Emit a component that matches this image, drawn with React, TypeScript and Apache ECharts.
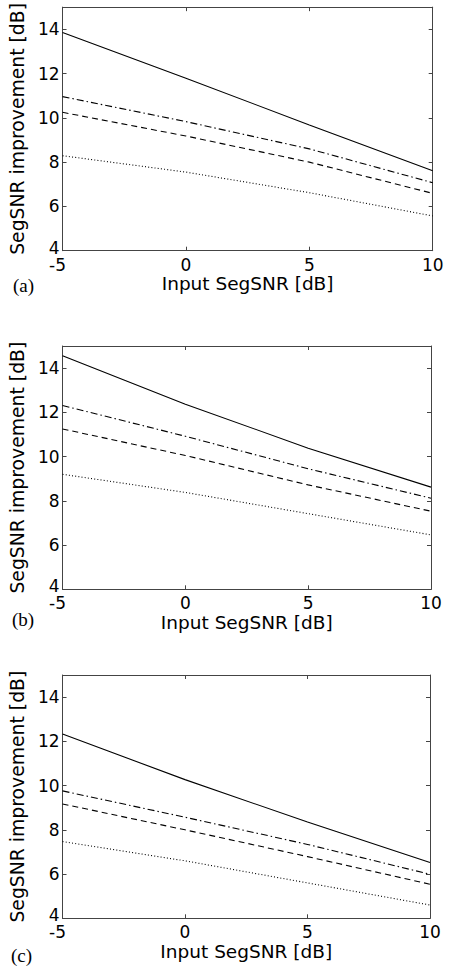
import React, { useEffect, useRef } from "react";
import * as echarts from "echarts";

const xValues = [-5, 0, 5, 10];
const xTicks = [-5, 0, 5, 10];
const yTicks = [4, 6, 8, 10, 12, 14];

const panelLabels = ["(a)", "(b)", "(c)"];

// panel (a)
const aSolid = [13.85, 11.79, 9.68, 7.61];
const aDashDot = [10.96, 9.83, 8.6, 7.07];
const aDashed = [10.25, 9.18, 8.0, 6.59];
const aDotted = [8.29, 7.55, 6.62, 5.57];
// panel (b)
const bSolid = [14.56, 12.37, 10.38, 8.62];
const bDashDot = [12.31, 10.92, 9.45, 8.12];
const bDashed = [11.25, 10.05, 8.72, 7.53];
const bDotted = [9.2, 8.38, 7.42, 6.46];
// panel (c)
const cSolid = [12.33, 10.27, 8.35, 6.52];
const cDashDot = [9.76, 8.57, 7.34, 5.99];
const cDashed = [9.17, 8.0, 6.79, 5.54];
const cDotted = [7.47, 6.6, 5.6, 4.6];

const panels = [
  [aSolid, aDashDot, aDashed, aDotted],
  [bSolid, bDashDot, bDashed, bDotted],
  [cSolid, cDashDot, cDashed, cDotted],
];

const xTitle = "Input SegSNR [dB]";
const yTitle = "SegSNR improvement [dB]";

const grids = [
  { left: 60.3, right: 16.3, top: 6.7, height: 244 },
  { left: 58.3, right: 18, top: 346, height: 243.3 },
  { left: 57.3, right: 19, top: 675, height: 243.3 },
];
const labelPos = [
  { x: 13, y: 276 },
  { x: 12, y: 610 },
  { x: 11, y: 946 },
];

const lineStyles: any[] = [
  { type: "solid" },
  { type: [7, 3, 1.5, 3] },
  { type: [6, 4] },
  { type: [1, 2.2] },
];

const FONT = "DejaVu Sans";
const AX = "#444";

export default function App() {
  const ref = useRef<HTMLDivElement>(null);
  useEffect(() => {
    if (!ref.current) return;
    const chart = echarts.init(ref.current, null, { renderer: "svg" });
    const xAxis: any[] = [];
    const yAxis: any[] = [];
    const series: any[] = [];
    const tickFont = { color: "#000", fontFamily: FONT, fontSize: 17 };
    grids.forEach((g, i) => {
      const baseX = {
        type: "value",
        gridIndex: i,
        min: -5,
        max: 10,
        interval: 5,
        splitLine: { show: false },
        axisLine: { show: true, onZero: false, lineStyle: { color: AX, width: 1 } },
        axisTick: { show: true, inside: true, length: 4, lineStyle: { color: AX } },
      };
      xAxis.push({
        ...baseX,
        position: "bottom",
        axisLabel: {
          ...tickFont,
          lineHeight: 12,
          margin: 8,
          formatter: (v: number) =>
            !xTicks.includes(v) ? "" : v < 0 ? `{neg|${v}}` : String(v),
          rich: { neg: { ...tickFont, lineHeight: 12, padding: [0, 10, 0, 0] } },
        },
        name: xTitle,
        nameLocation: "middle",
        nameGap: 21,
        nameTextStyle: { color: "#000", fontFamily: FONT, fontSize: 18.5 },
      });
      xAxis.push({ ...baseX, position: "top", axisLabel: { show: false } });
      const baseY = {
        type: "value",
        gridIndex: i,
        min: 4,
        max: 15,
        interval: 2,
        splitLine: { show: false },
        axisLine: { show: true, onZero: false, lineStyle: { color: AX, width: 1 } },
        axisTick: { show: true, inside: true, length: 4, lineStyle: { color: AX } },
      };
      yAxis.push({
        ...baseY,
        position: "left",
        axisLabel: {
          ...tickFont,
          lineHeight: 12,
          margin: 3,
          formatter: (v: number) =>
            !yTicks.includes(v) ? "" : v === 4 ? `{low|${v}}` : String(v),
          rich: { low: { ...tickFont, lineHeight: 12, padding: [0, 0, 6, 0] } },
        },
        name: yTitle,
        nameLocation: "middle",
        nameGap: 24,
        nameRotate: 90,
        nameTextStyle: { color: "#000", fontFamily: FONT, fontSize: 18.8 },
      });
      yAxis.push({ ...baseY, position: "right", axisLabel: { show: false } });
      panels[i].forEach((vals, k) => {
        series.push({
          type: "line",
          xAxisIndex: i * 2,
          yAxisIndex: i * 2,
          data: xValues.map((x, j) => [x, vals[j]]),
          symbol: "none",
          lineStyle: { color: "#000", width: 1.1, ...lineStyles[k] },
        });
      });
    });
    chart.setOption({
      animation: false,
      backgroundColor: "#fff",
      grid: grids.map((g) => ({ ...g, containLabel: false })),
      xAxis,
      yAxis,
      series,
      graphic: panelLabels.map((t, i) => ({
        type: "text",
        left: labelPos[i].x,
        top: labelPos[i].y,
        style: {
          text: t,
          fontFamily: "Liberation Serif",
          fontSize: 19,
          fill: "#000",
        },
      })),
    });
    return () => chart.dispose();
  }, []);
  return (
    <div
      ref={ref}
      style={{ position: "absolute", left: 0, top: 0, width: 449, height: 966 }}
    />
  );
}
